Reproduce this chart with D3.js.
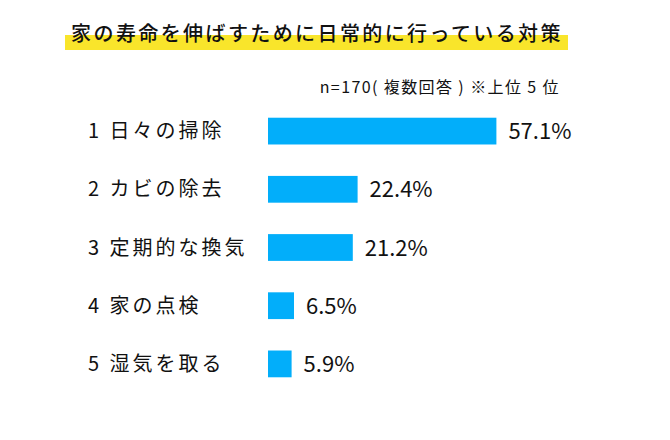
<!DOCTYPE html>
<html><head><meta charset="utf-8">
<script src="https://cdn.jsdelivr.net/npm/d3@7"></script>
<style>
html,body{margin:0;padding:0;background:#fff;}
svg{display:block;font-family:"Noto Sans CJK JP","Noto Sans",sans-serif;}
</style></head>
<body><svg id="c" width="670" height="440"></svg>
<script>
const titleText = "家の寿命を伸ばすために日常的に行っている対策";
const noteText = "n=170( 複数回答 ) ※上位 5 位";
const ranks = ["1","2","3","4","5"];
const categories = ["日々の掃除","カビの除去","定期的な換気","家の点検","湿気を取る"];
const values = [57.1,22.4,21.2,6.5,5.9];

const svg = d3.select("#c");
// title highlight
svg.append("rect").attr("x",65).attr("y",35).attr("width",503).attr("height",15).attr("fill","#f9e52b");
svg.append("text").attr("x",317).attr("y",41).attr("text-anchor","middle")
  .attr("font-size",20).attr("font-weight",500).attr("letter-spacing",2.4).attr("fill","#111").text(titleText);
svg.append("text").attr("x",560).attr("y",93).attr("text-anchor","end")
  .attr("font-size",16).attr("letter-spacing",1.4).attr("fill","#111").text(noteText);

const x = d3.scaleLinear().domain([0,100]).range([268,668]);
const y = d3.scaleBand().domain(categories).range([102,393]).paddingInner(0.54).paddingOuter(0.27);

const rows = svg.selectAll("g.row").data(categories).join("g").attr("class","row");
rows.append("rect")
  .attr("x",x(0))
  .attr("y",d=>y(d))
  .attr("width",(d,i)=>x(values[i])-x(0))
  .attr("height",y.bandwidth())
  .attr("fill","#02aefa");
rows.append("text")
  .attr("x",88).attr("y",d=>y(d)+y.bandwidth()/2+7)
  .attr("font-size",20).attr("letter-spacing",3).attr("fill","#111")
  .text((d,i)=>ranks[i]+" "+d);
rows.append("text")
  .attr("x",(d,i)=>x(values[i])+12).attr("y",d=>y(d)+y.bandwidth()/2+8)
  .attr("font-size",22).attr("fill","#111")
  .text((d,i)=>d3.format(".1f")(values[i])+"%");
</script></body></html>
